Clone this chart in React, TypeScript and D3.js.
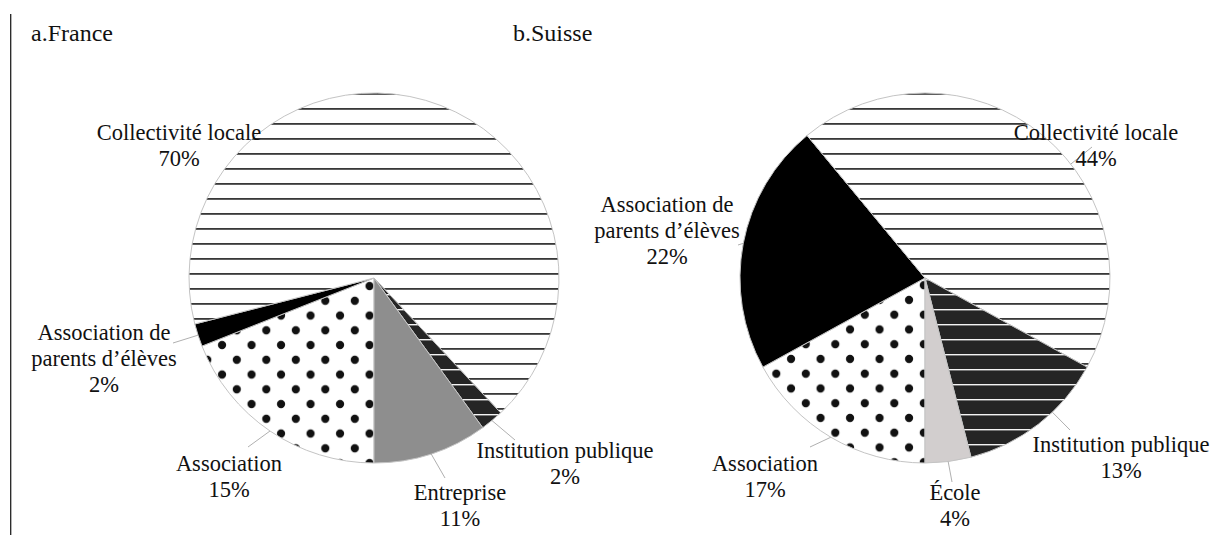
import React from "react";
import * as d3 from "d3";

// ---- Data ----
const franceCategories = [
  "Association",
  "Association de\nparents d’élèves",
  "Collectivité locale",
  "Institution publique",
  "Entreprise",
];
// angular share of each slice as drawn
const franceShares = [19, 2, 67, 2, 10];
// percentages printed on the labels
const franceLabels = [15, 2, 70, 2, 11];

const suisseCategories = [
  "Association",
  "Association de\nparents d’élèves",
  "Collectivité locale",
  "Institution publique",
  "École",
];
const suisseShares = [17, 22, 44, 13, 4];
const suisseLabels = [17, 22, 44, 13, 4];

const titles = ["a.France", "b.Suisse"];

// ---- Layout ----
const W = 1216;
const H = 535;
const R = 185;
const FONT = "Liberation Serif, Tinos, Times New Roman, Times, DejaVu Serif, serif";

type LabelLayout = { x: number; y: number; end?: [number, number]; angle?: number };

const franceLayout: LabelLayout[] = [
  { x: 229, y: 471, end: [248, 447] },
  { x: 104, y: 340, end: [173, 343] },
  { x: 179, y: 140 },
  { x: 565, y: 458, end: [515, 440] },
  { x: 460, y: 500, end: [445, 478] },
];
const suisseLayout: LabelLayout[] = [
  { x: 765, y: 471, end: [810, 447] },
  { x: 667, y: 212, end: [738, 245] },
  { x: 1096, y: 140, end: [1092, 147], angle: 52 },
  { x: 1121, y: 452, end: [1070, 430], angle: 136.5 },
  { x: 955, y: 500, end: [952, 482] },
];

const pies = [
  { id: "fr", cx: 374, cy: 278, cats: franceCategories, vals: franceShares, labels: franceLabels, layout: franceLayout, dot: [10.3, 22.8], titleX: 31 },
  { id: "ch", cx: 925, cy: 278, cats: suisseCategories, vals: suisseShares, labels: suisseLabels, layout: suisseLayout, dot: [28.3, 7.2], titleX: 513 },
];

function fillFor(cat: string, id: string): string {
  if (cat === "Collectivité locale") return "url(#hatch)";
  if (cat === "Institution publique") return "url(#inst)";
  if (cat === "Association") return `url(#dots-${id})`;
  if (cat.startsWith("Association de")) return "#000000";
  if (cat === "Entreprise") return "#8e8e8e";
  if (cat === "École") return "#d2cece";
  return "#ccc";
}

export default function App() {
  const pieGen = d3
    .pie<number>()
    .sort(null)
    .value((d) => d)
    .startAngle(Math.PI)
    .endAngle(3 * Math.PI);
  const arcGen = d3.arc<d3.PieArcDatum<number>>().innerRadius(0).outerRadius(R);
  const P = 29.5;
  const textStyle = { fontFamily: FONT };

  return (
    <svg
      width={W}
      height={H}
      style={{ position: "absolute", left: 0, top: 0, background: "#fff" }}
    >
      <defs>
        <pattern id="hatch" patternUnits="userSpaceOnUse" x={0} y={0} width={10} height={15}>
          <rect width={10} height={15} fill="#fff" />
          <rect y={10} width={10} height={1.8} fill="#383838" />
        </pattern>
        <pattern id="inst" patternUnits="userSpaceOnUse" x={0} y={0} width={10} height={15}>
          <rect width={10} height={15} fill="#252525" />
          <rect y={1} width={10} height={1.4} fill="#f4f4f4" />
        </pattern>
        {pies.map((p) => (
          <pattern
            key={p.id}
            id={`dots-${p.id}`}
            patternUnits="userSpaceOnUse"
            x={p.dot[0]}
            y={p.dot[1]}
            width={P}
            height={P}
          >
            <rect width={P} height={P} fill="#fff" />
            {[
              [0, 0],
              [P, 0],
              [0, P],
              [P, P],
              [P / 2, P / 2],
            ].map(([x, y], i) => (
              <circle key={i} cx={x} cy={y} r={4.1} fill="#111" />
            ))}
          </pattern>
        ))}
      </defs>
      <rect width={W} height={H} fill="#fff" />
      <line x1={10.7} y1={14} x2={10.7} y2={H} stroke="#222" strokeWidth={1.3} />
      {pies.map((p, pi) => {
        const arcs = pieGen(p.vals);
        return (
          <g key={p.id}>
            <text x={p.titleX} y={40.5} fontSize={24} fill="#111" style={textStyle}>
              {titles[pi]}
            </text>
            <g transform={`translate(${p.cx},${p.cy})`}>
              {arcs.map((a, i) => (
                <path
                  key={i}
                  d={arcGen(a) || ""}
                  fill={fillFor(p.cats[i], p.id)}
                  stroke="#c4c4c4"
                  strokeWidth={1}
                />
              ))}
            </g>
            {arcs.map((a, i) => {
              const lay = p.layout[i];
              if (!lay.end) return null;
              const ang = lay.angle !== undefined ? (lay.angle * Math.PI) / 180 : (a.startAngle + a.endAngle) / 2;
              const [sx, sy] = d3.pointRadial(ang, R);
              return (
                <line
                  key={`l${i}`}
                  x1={p.cx + sx}
                  y1={p.cy + sy}
                  x2={lay.end[0]}
                  y2={lay.end[1]}
                  stroke="#b0b0b0"
                  strokeWidth={1}
                />
              );
            })}
            {arcs.map((a, i) => {
              const lay = p.layout[i];
              const lines = [...p.cats[i].split("\n"), `${p.labels[i]}%`];
              return (
                <text key={`t${i}`} x={lay.x} y={lay.y} fontSize={22.5} fill="#111" textAnchor="middle" style={textStyle}>
                  {lines.map((ln, k) => (
                    <tspan key={k} x={lay.x} dy={k === 0 ? 0 : 26}>
                      {ln}
                    </tspan>
                  ))}
                </text>
              );
            })}
          </g>
        );
      })}
    </svg>
  );
}
